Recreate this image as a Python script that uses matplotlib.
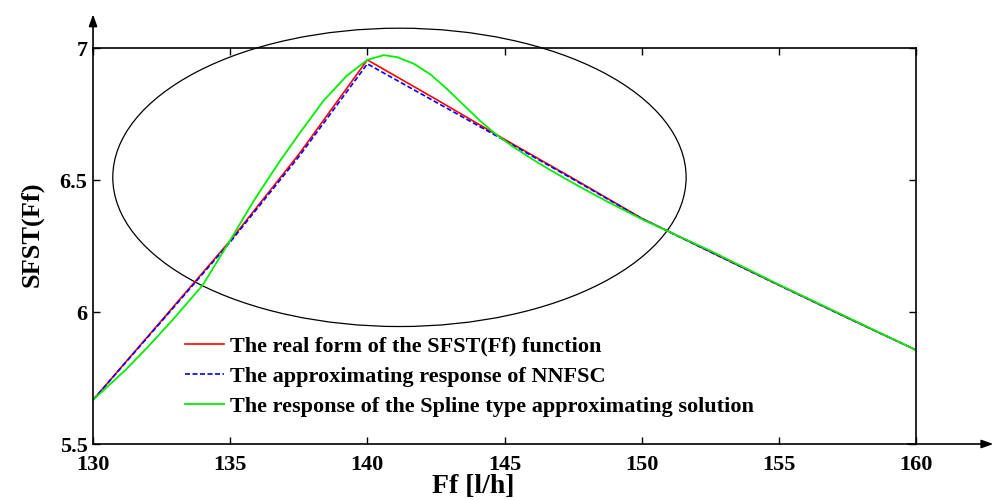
import matplotlib
matplotlib.use("Agg")
import matplotlib.pyplot as plt
from matplotlib.patches import Ellipse

plt.rcParams['font.family'] = ['Liberation Serif', 'DejaVu Serif']
plt.rcParams['font.weight'] = 'bold'

# Data
x_red = [130, 132.5, 135, 137.5, 140, 142.5, 145, 147.5, 150, 152.5, 155, 157.5, 160]
y_red = [5.667, 5.968, 6.270, 6.597, 6.955, 6.806, 6.654, 6.506, 6.355, 6.228, 6.102, 5.978, 5.856]

x_blue = [130, 132.5, 135, 137.5, 140, 142.5, 145, 147.5, 150, 152.5, 155, 157.5, 160]
y_blue = [5.667, 5.965, 6.265, 6.588, 6.940, 6.795, 6.650, 6.503, 6.354, 6.228, 6.102, 5.978, 5.856]

x_green = [130, 131.2, 132.0, 132.9, 134.0, 135.0, 135.85, 136.8, 137.55, 138.4, 139.25,
           140.0, 140.6, 141.1, 141.7, 142.3, 142.9, 143.5, 144.1, 144.7, 145.3, 145.95,
           146.55, 147.15, 147.75, 148.75, 150.0, 151.25, 152.5, 155.0, 157.5, 160.0]
y_green = [5.667, 5.782, 5.868, 5.970, 6.102, 6.272, 6.420, 6.570, 6.680, 6.800, 6.895,
           6.955, 6.973, 6.965, 6.940, 6.900, 6.845, 6.785, 6.725, 6.672, 6.627, 6.583,
           6.545, 6.509, 6.474, 6.418, 6.352, 6.292, 6.232, 6.104, 5.980, 5.856]

labels = ["The real form of the SFST(Ff) function",
          "The approximating response of NNFSC",
          "The response of the Spline type approximating solution"]

x_ticks = [130, 135, 140, 145, 150, 155, 160]
y_ticks = [5.5, 6, 6.5, 7]
y_tick_labels = ["5.5", "6", "6.5", "7"]

fig = plt.figure(figsize=(9.95, 5.0), dpi=100)
ax = fig.add_axes([0.0935, 0.112, 0.8271, 0.792])

ax.plot(x_red, y_red, color='#ff0000', lw=1.2, label=labels[0])
ax.plot(x_blue, y_blue, color='#0000ff', lw=1.2, ls=(0, (3, 1.5)), label=labels[1])
ax.plot(x_green, y_green, color='#00ee00', lw=1.3, label=labels[2])

ell = Ellipse((141.17, 6.51), 20.9, 1.13, fill=False, edgecolor='black', lw=0.9, clip_on=False)
ax.add_patch(ell)

ax.set_xlim(130, 160)
ax.set_ylim(5.5, 7)
ax.set_xticks(x_ticks)
ax.set_xticklabels([str(t) for t in x_ticks])
ax.set_yticks(y_ticks)
ax.set_yticklabels(y_tick_labels)
ax.tick_params(direction='in', top=True, right=True, length=5, width=1.0,
               labelsize=16, pad=4)
ax.tick_params(axis='x', pad=8)
for lab in ax.get_xticklabels() + ax.get_yticklabels():
    lab.set_fontweight('bold')

for s in ax.spines.values():
    s.set_linewidth(1.2)

ax.set_xlabel("Ff [l/h]", fontsize=20, fontweight='bold')
ax.set_ylabel("SFST(Ff)", fontsize=19, fontweight='bold')
ax.xaxis.set_label_coords(0.462, -0.076)
ax.yaxis.set_label_coords(-0.06, 0.53)

# Arrows extending axes
ax.annotate("", xy=(0, 1.085), xytext=(0, 0.99), xycoords='axes fraction',
            arrowprops=dict(arrowstyle='-|>,head_length=0.7,head_width=0.25', color='black', lw=1.2,
                            shrinkA=0, shrinkB=0), annotation_clip=False)
ax.annotate("", xy=(1.094, 0), xytext=(0.99, 0), xycoords='axes fraction',
            arrowprops=dict(arrowstyle='-|>,head_length=0.7,head_width=0.25', color='black', lw=1.2,
                            shrinkA=0, shrinkB=0), annotation_clip=False)

leg = ax.legend(loc='upper left', bbox_to_anchor=(0.1118, 0.272), frameon=False,
                prop={'family': 'Liberation Serif', 'weight': 'bold', 'size': 16},
                handlelength=1.75, handletextpad=0.28, labelspacing=0.42,
                borderpad=0, borderaxespad=0)

fig.savefig("out.png", dpi=100)
